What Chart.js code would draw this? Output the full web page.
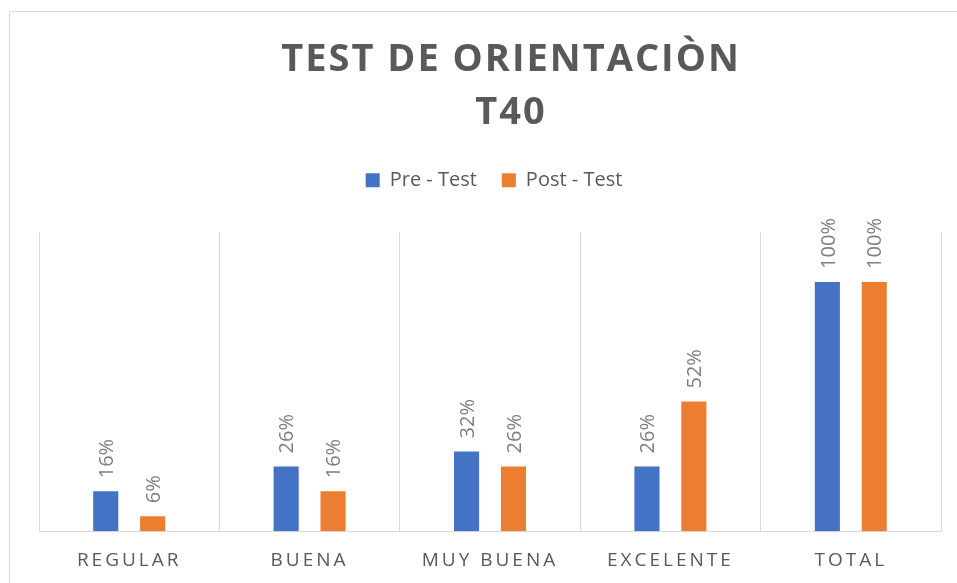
<!DOCTYPE html>
<html>
<head>
<meta charset="utf-8">
<script src="https://cdn.jsdelivr.net/npm/chart.js@4.4.1/dist/chart.umd.min.js"></script>
<style>
  html, body { margin: 0; padding: 0; background: #ffffff; }
  canvas { display: block; }
</style>
</head>
<body>
<canvas id="c" width="957" height="583"></canvas>
<script>
// ---- data ----
const categories = ['REGULAR', 'BUENA', 'MUY BUENA', 'EXCELENTE', 'TOTAL'];
const seriesNames = ['Pre - Test', 'Post - Test'];
const preTest = [0.16, 0.26, 0.32, 0.26, 1.00];
const postTest = [0.06, 0.16, 0.26, 0.52, 1.00];
const titleLines = ['TEST DE ORIENTACIÒN', 'T40'];
const yMin = 0;
const yMax = 1.2;

// ---- styles ----
const BLUE = '#4472C4';
const ORANGE = '#ED7D31';
const TEXT = '#595959';
const LABEL = '#7F7F7F';
const GRID = '#D9D9D9';
const FONT = '"Open Sans", "DejaVu Sans", sans-serif';

function wrapMethod(obj, name, chart, spacing, dx) {
  if (!obj || !obj[name] || obj['__w_' + name]) return;
  const orig = obj[name].bind(obj);
  obj[name] = function (area) {
    const ctx = chart.ctx;
    ctx.save();
    ctx.letterSpacing = spacing;
    ctx.translate(dx, 0);
    orig(area);
    ctx.restore();
  };
  obj['__w_' + name] = true;
}

const stylePlugin = {
  id: 'stylePlugin',
  beforeDraw(chart) {
    wrapMethod(chart.titleBlock, 'draw', chart, '2px', 21);
    wrapMethod(chart.scales.x, 'drawLabels', chart, '3px', 0);
    wrapMethod(chart.legend, 'draw', chart, '0px', 4);
    // outer chart frame (top and left edges visible)
    const ctx = chart.ctx;
    ctx.save();
    ctx.strokeStyle = GRID;
    ctx.lineWidth = 1;
    ctx.beginPath();
    ctx.moveTo(9.5, chart.height);
    ctx.lineTo(9.5, 11.5);
    ctx.lineTo(chart.width, 11.5);
    ctx.stroke();
    ctx.restore();
  }
};

const barLabels = {
  id: 'barLabels',
  afterDatasetsDraw(chart) {
    const ctx = chart.ctx;
    chart.data.datasets.forEach((ds, di) => {
      const meta = chart.getDatasetMeta(di);
      meta.data.forEach((bar, i) => {
        const txt = Math.round(ds.data[i] * 100) + '%';
        ctx.save();
        ctx.translate(bar.x + 1.5, bar.y - 13);
        ctx.rotate(-Math.PI / 2);
        ctx.font = '20px ' + FONT;
        ctx.fillStyle = LABEL;
        ctx.textAlign = 'left';
        ctx.textBaseline = 'middle';
        ctx.fillText(txt, 0, 0);
        ctx.restore();
      });
    });
  }
};

new Chart(document.getElementById('c'), {
  type: 'bar',
  data: {
    labels: categories,
    datasets: [
      { label: seriesNames[0], data: preTest, backgroundColor: BLUE, borderWidth: 0,
        categoryPercentage: 0.52, barPercentage: 0.535 },
      { label: seriesNames[1], data: postTest, backgroundColor: ORANGE, borderWidth: 0,
        categoryPercentage: 0.52, barPercentage: 0.535 }
    ]
  },
  options: {
    responsive: false,
    devicePixelRatio: 1,
    animation: false,
    layout: { padding: { left: 39, right: 16, top: 0, bottom: -7 } },
    plugins: {
      tooltip: { enabled: false },
      title: {
        display: true,
        text: titleLines,
        color: TEXT,
        font: { family: FONT, size: 38, weight: '700', lineHeight: 1.395 },
        padding: { top: 33.7, bottom: 5.6 }
      },
      legend: {
        display: true,
        position: 'top',
        labels: {
          color: TEXT,
          font: { family: FONT, size: 20 },
          boxWidth: 14,
          boxHeight: 14,
          padding: 25
        }
      },
      subtitle: {
        display: true,
        text: '',
        weight: 500,
        font: { size: 1, lineHeight: 1 },
        padding: { top: 30.7, bottom: 0 }
      }
    },
    scales: {
      x: {
        offset: true,
        grid: { display: true, offset: true, color: GRID, lineWidth: 1, drawTicks: false },
        border: { display: true, color: GRID, width: 1 },
        ticks: {
          color: TEXT,
          font: { family: FONT, size: 19, lineHeight: 1.2 },
          padding: 18,
          maxRotation: 0,
          autoSkip: false
        }
      },
      y: {
        display: false,
        min: yMin,
        max: yMax
      }
    }
  },
  plugins: [stylePlugin, barLabels]
});
</script>
</body>
</html>
